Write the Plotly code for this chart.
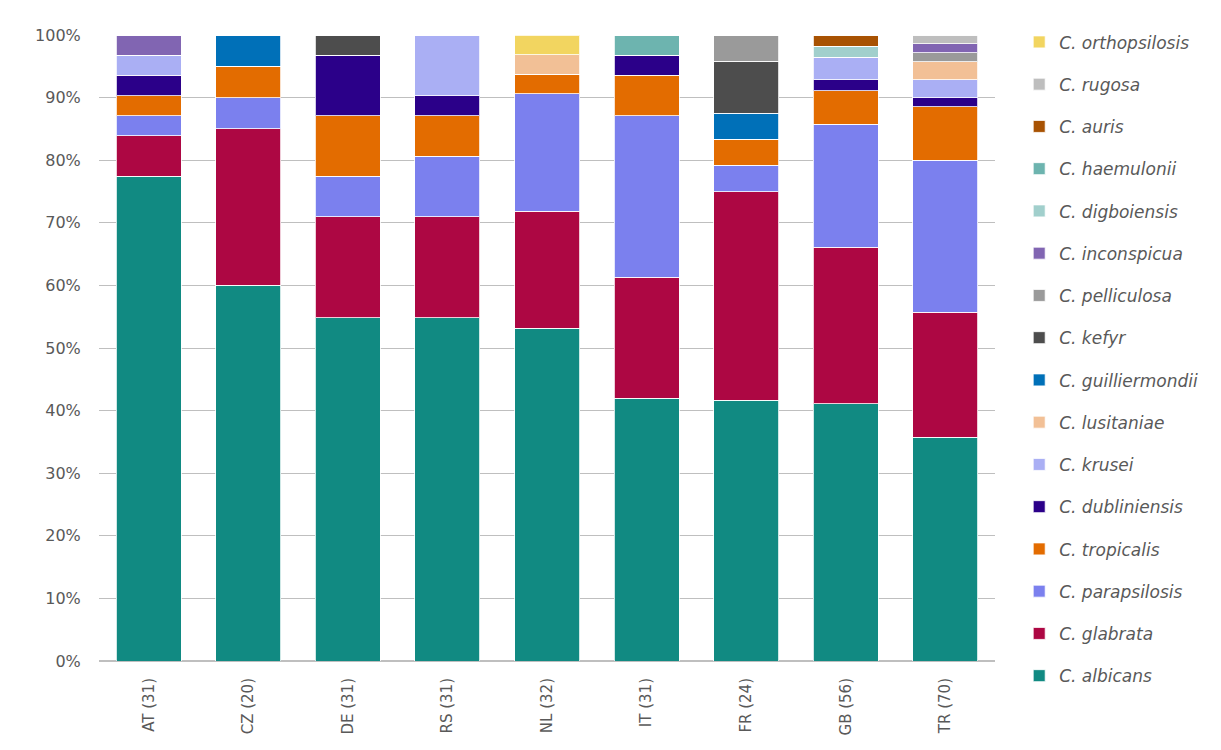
import plotly.graph_objects as go

countries = ["AT (31)", "CZ (20)", "DE (31)", "RS (31)", "NL (32)", "IT (31)", "FR (24)", "GB (56)", "TR (70)"]

# isolate counts per country (stack order bottom -> top)
albicans       = [24, 12, 17, 17, 17, 13, 10, 23, 25]
glabrata       = [2, 5, 5, 5, 6, 6, 8, 14, 14]
parapsilosis   = [1, 1, 2, 3, 6, 8, 1, 11, 17]
tropicalis     = [1, 1, 3, 2, 1, 2, 1, 3, 6]
dubliniensis   = [1, 0, 3, 1, 0, 1, 0, 1, 1]
krusei         = [1, 0, 0, 3, 0, 0, 0, 2, 2]
lusitaniae     = [0, 0, 0, 0, 1, 0, 0, 0, 2]
guilliermondii = [0, 1, 0, 0, 0, 0, 1, 0, 0]
kefyr          = [0, 0, 1, 0, 0, 0, 2, 0, 0]
pelliculosa    = [0, 0, 0, 0, 0, 0, 1, 0, 1]
inconspicua    = [1, 0, 0, 0, 0, 0, 0, 0, 1]
digboiensis    = [0, 0, 0, 0, 0, 0, 0, 1, 0]
haemulonii     = [0, 0, 0, 0, 0, 1, 0, 0, 0]
auris          = [0, 0, 0, 0, 0, 0, 0, 1, 0]
rugosa         = [0, 0, 0, 0, 0, 0, 0, 0, 1]
orthopsilosis  = [0, 0, 0, 0, 1, 0, 0, 0, 0]

series = [
    ("C. albicans", albicans, "#118A82"),
    ("C. glabrata", glabrata, "#AD0743"),
    ("C. parapsilosis", parapsilosis, "#7B80EE"),
    ("C. tropicalis", tropicalis, "#E36C00"),
    ("C. dubliniensis", dubliniensis, "#2B0089"),
    ("C. krusei", krusei, "#AAAFF4"),
    ("C. lusitaniae", lusitaniae, "#F2C096"),
    ("C. guilliermondii", guilliermondii, "#0070B8"),
    ("C. kefyr", kefyr, "#4D4D4D"),
    ("C. pelliculosa", pelliculosa, "#9A9A9A"),
    ("C. inconspicua", inconspicua, "#8165B2"),
    ("C. digboiensis", digboiensis, "#A1CFCC"),
    ("C. haemulonii", haemulonii, "#6DB4AF"),
    ("C. auris", auris, "#A85202"),
    ("C. rugosa", rugosa, "#BEBEBE"),
    ("C. orthopsilosis", orthopsilosis, "#F2D560"),
]

FONT = "DejaVu Sans"
GREY = "#595959"

fig = go.Figure()
for i, (name, vals, col) in enumerate(series):
    fig.add_trace(go.Bar(
        x=countries, y=vals, name="<i>" + name + "</i>",
        legendgroup=name, legendrank=1000 - i,
        marker=dict(color=col, line=dict(color="rgba(255,255,255,0.8)", width=1)),
        width=0.653,
    ))

fig.update_layout(
    width=1221, height=750,
    barmode="stack", barnorm="percent",
    plot_bgcolor="white", paper_bgcolor="white",
    margin=dict(l=91, r=234, t=27, b=97, autoexpand=False),
    font=dict(family=FONT, color=GREY, size=15),
    legend=dict(
        traceorder="grouped", tracegroupgap=17.15,
        x=1.027, xanchor="left", y=1.017, yanchor="top",
        font=dict(size=17, color=GREY, family=FONT),
        maxheight=745,
    ),
    xaxis=dict(tickangle=-90, showline=False, ticks="outside", ticklen=10,
               tickcolor="rgba(0,0,0,0)", tickfont=dict(size=15, color=GREY)),
    yaxis=dict(range=[0, 100], dtick=10, ticksuffix="%", showgrid=True,
               gridcolor="#BFBFBF", gridwidth=1, zeroline=True, zerolinecolor="#BFBFBF",
               tickfont=dict(size=16, color=GREY), ticks="outside", ticklen=14,
               tickcolor="rgba(0,0,0,0)"),
)

fig.write_html("out.html")
